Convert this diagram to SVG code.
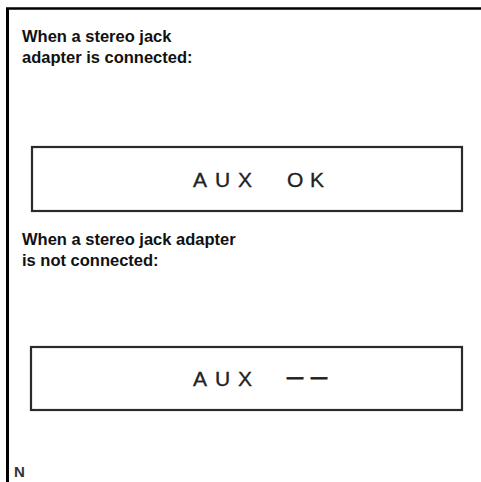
<svg xmlns="http://www.w3.org/2000/svg" width="481" height="482" viewBox="0 0 481 482">
<style>
.h{font-family:"Liberation Sans",Arial,sans-serif;font-weight:bold;font-size:16.5px;fill:#111}
.d{font-family:"Liberation Sans",Arial,sans-serif;font-size:21px;fill:#222;stroke:#222;stroke-width:0.35}
.dash{font-weight:bold;font-size:16px;stroke-width:0.9}
.box{fill:#fff;stroke:#2a2a2a;stroke-width:2.2}
</style>
<rect width="481" height="482" fill="#fff"/>
<path d="M7.5 482 V8.5" fill="none" stroke="#000" stroke-width="3"/>
<path d="M6 8.5 H481" fill="none" stroke="#000" stroke-width="2.5"/>
<g id="label1">
<text class="h" x="22" y="42">When a stereo jack</text>
<text class="h" x="22" y="63">adapter is connected:</text>
</g>
<g id="display1">
<rect class="box" x="32" y="147" width="430" height="64"/>
<text class="d" x="193 215 238 262 287 310" y="187">AUX OK</text>
</g>
<g id="label2">
<text class="h" x="22" y="245">When a stereo jack adapter</text>
<text class="h" x="22" y="266">is not connected:</text>
</g>
<g id="display2">
<rect class="box" x="31" y="347" width="431" height="63"/>
<text class="d" y="386"><tspan x="193 215 238">AUX</tspan> <tspan class="dash" x="287 311" y="383">——</tspan></text>
</g>
<g id="note">
<text x="14" y="477" font-family="Liberation Sans,Arial,sans-serif" font-size="15" font-weight="bold" fill="#333">N</text>
</g>
</svg>
